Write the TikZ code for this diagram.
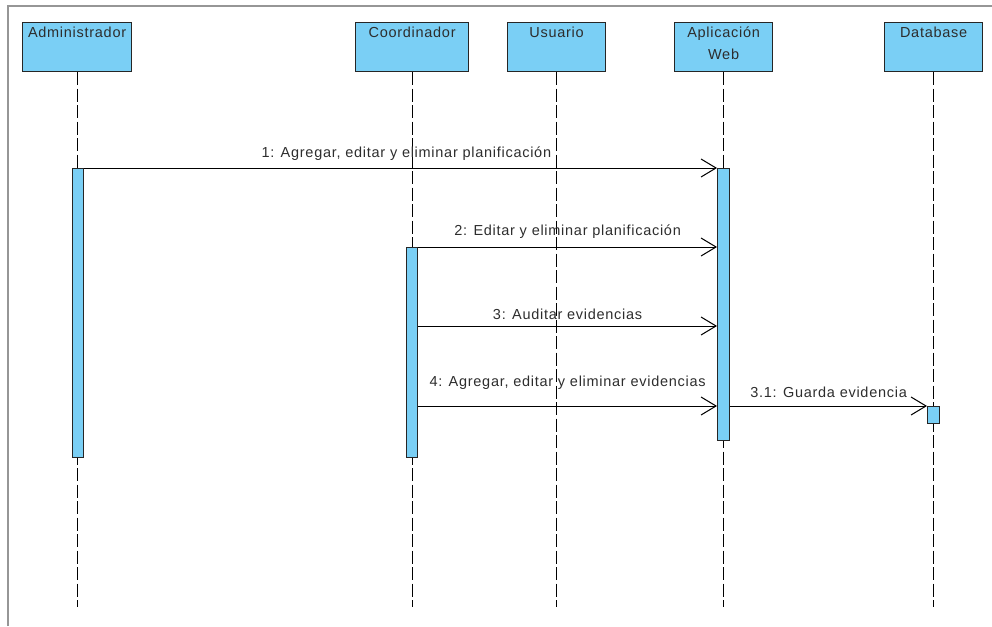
\documentclass[tikz,border=0pt]{standalone}
\usepackage{fontspec}
\setmainfont{Liberation Sans}[LetterSpace=5]
\usetikzlibrary{arrows.meta}
\definecolor{lifefill}{RGB}{122,207,245}
\definecolor{txtgray}{RGB}{45,45,45}
\definecolor{framegray}{RGB}{150,150,150}
\begin{document}
\begin{tikzpicture}[x=1pt,y=-1pt,
  every node/.style={font=\fontsize{14.5}{22}\selectfont, text=txtgray},
  headbox/.style={draw=black!85, line width=1.2pt, fill=lifefill, anchor=north west, minimum height=49pt, inner sep=0pt},
  headlab/.style={anchor=north, inner sep=0pt, align=center},
  actbar/.style={draw=black!85, line width=1.2pt, fill=lifefill, anchor=north west, inner sep=0pt, minimum width=11pt},
  lifeline/.style={draw=black, line width=1pt, dash pattern=on 13pt off 3.5pt},
  msg/.style={draw=black, line width=1pt, -{Straight Barb[length=15pt,width=18pt,line width=1pt]}},
  msglab/.style={anchor=south, inner sep=0pt}
]
\useasboundingbox (0,0) rectangle (992,626);
% frame
\draw[framegray, line width=1.2pt] (8,626) -- (8,6) -- (992,6);

% heads
\node[headbox, minimum width=109pt] (adm) at (22,22) {};
\node[headbox, minimum width=113pt] (coo) at (355,22) {};
\node[headbox, minimum width=98pt] (usu) at (507,22) {};
\node[headbox, minimum width=98pt] (app) at (674,22) {};
\node[headbox, minimum width=98pt] (db) at (884,22) {};
\node[headlab] (admt) at ([yshift=-5pt]adm.north) {Administrador};
\node[headlab] (coot) at ([yshift=-5pt]coo.north) {Coordinador};
\node[headlab] (usut) at ([yshift=-5pt]usu.north) {Usuario};
\node[headlab] (appt) at ([yshift=-5pt]app.north) {Aplicación\\Web};
\node[headlab] (dbt) at ([yshift=-5pt]db.north) {Database};

% lifeline ends
\coordinate (admE) at (adm.south |- 0,607);
\coordinate (cooE) at (coo.south |- 0,607);
\coordinate (usuE) at (usu.south |- 0,607);
\coordinate (appE) at (app.south |- 0,607);
\coordinate (dbE) at (db.south |- 0,607);
\draw[lifeline] (adm.south) -- (admE);
\draw[lifeline] (coo.south) -- (cooE);
\draw[lifeline] (usu.south) -- (usuE);
\draw[lifeline] (app.south) -- (appE);
\draw[lifeline] (db.south) -- (dbE);

% activation bars
\node[actbar, minimum height=289pt] (a1) at (71.5,168) {};
\node[actbar, minimum height=210pt] (c1) at (406,247) {};
\node[actbar, minimum width=12pt, minimum height=272pt] (w1) at (717,168) {};
\node[actbar, minimum width=12pt, minimum height=17pt] (d1) at (927,406) {};

% messages
\coordinate (m3) at (0,326);
\coordinate (m4) at (0,406);
\draw[msg] (a1.north east) -- node[msglab, yshift=7pt, xshift=6pt] (l1) {1: Agregar, editar y eliminar planificación} (w1.north west);
\draw[msg] (c1.north east) -- node[msglab, yshift=8pt] (l2) {2: Editar y eliminar planificación} (w1.west |- c1.north);
\draw[msg] (c1.east |- m3) -- node[msglab, yshift=6pt] (l3) {3: Auditar evidencias} (w1.west |- m3);
\draw[msg] (c1.east |- m4) -- node[msglab, yshift=16pt] (l4) {4: Agregar, editar y eliminar evidencias} (w1.west |- m4);
\draw[msg] (w1.east |- m4) -- node[msglab, yshift=8pt] (l5) {3.1: Guarda evidencia} (d1.north west);
\end{tikzpicture}
\end{document}
